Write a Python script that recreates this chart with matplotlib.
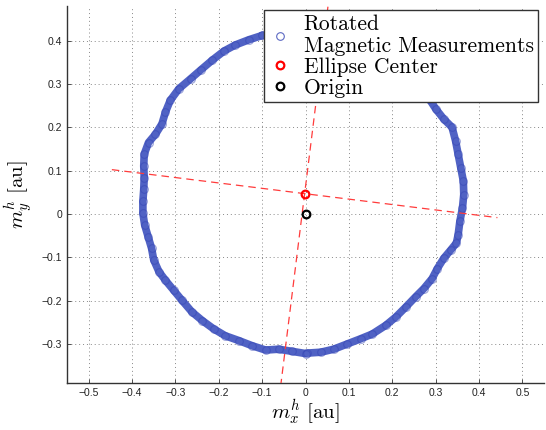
import numpy as np
import matplotlib
matplotlib.use('Agg')
import matplotlib.pyplot as plt
from matplotlib.ticker import FuncFormatter

ring_x = [-0.100, -0.131, -0.162, -0.188, -0.215, -0.242, -0.265, -0.292, -0.312,
          -0.323, -0.331, -0.346, -0.362, -0.372, -0.373, -0.372, -0.373, -0.375,
          -0.375, -0.371, -0.363, -0.355, -0.350, -0.338, -0.323, -0.304, -0.285,
          -0.262, -0.238, -0.212, -0.185, -0.154, -0.123, -0.092, -0.062, -0.031,
          0.000, 0.004, 0.035, 0.065, 0.096, 0.127, 0.154, 0.185, 0.208, 0.231,
          0.254, 0.273, 0.292, 0.304, 0.319, 0.335, 0.348, 0.352, 0.356, 0.362,
          0.365, 0.364, 0.358, 0.352, 0.346, 0.338, 0.319, 0.300, 0.285, 0.255,
          0.220, 0.180, 0.140, 0.100, 0.060, 0.020, -0.020, -0.060]
ring_y = [0.412, 0.402, 0.390, 0.376, 0.355, 0.332, 0.312, 0.289, 0.262,
          0.235, 0.208, 0.184, 0.165, 0.138, 0.111, 0.084, 0.057, 0.029,
          0.002, -0.025, -0.052, -0.079, -0.106, -0.133, -0.153, -0.176, -0.199,
          -0.226, -0.246, -0.265, -0.281, -0.292, -0.304, -0.314, -0.312, -0.317,
          -0.322, -0.321, -0.319, -0.312, -0.300, -0.288, -0.277, -0.257, -0.238, -0.215,
          -0.191, -0.172, -0.149, -0.126, -0.102, -0.083, -0.067, -0.048, -0.017, 0.014,
          0.045, 0.076, 0.107, 0.138, 0.169, 0.200, 0.219, 0.243, 0.266, 0.305,
          0.342, 0.370, 0.392, 0.408, 0.418, 0.420, 0.420, 0.416]

ellipse_center = (-0.002, 0.047)
origin = (0.0, 0.0)
axis_angle_deg = -7.1      # direcao do eixo maior
axis_half_len = 0.448

x_ticks = [-0.5, -0.4, -0.3, -0.2, -0.1, 0, 0.1, 0.2, 0.3, 0.4, 0.5]
y_ticks = [-0.3, -0.2, -0.1, 0, 0.1, 0.2, 0.3, 0.4]

plt.rcParams['mathtext.fontset'] = 'cm'

fig = plt.figure(figsize=(5.46, 4.30), dpi=100)
ax = fig.add_axes([67 / 546, 1 - 383 / 430, 477 / 546, 377 / 430])

blue = '#3444b4'
# faixa continua por baixo dos marcadores
ax.plot(ring_x + ring_x[:1], ring_y + ring_y[:1], color='#5062c4', lw=5.5,
        solid_capstyle='round', solid_joinstyle='round', zorder=2)
ax.plot(ring_x, ring_y, 'o', mfc='none', mec=blue, ms=5.5, mew=0.8, alpha=0.5,
        zorder=3, label='Rotated\nMagnetic Measurements')

# eixos da elipse (linhas tracejadas)
cx, cy = ellipse_center
for ang in (axis_angle_deg, axis_angle_deg + 90):
    t = np.deg2rad(ang)
    dx, dy = axis_half_len * np.cos(t), axis_half_len * np.sin(t)
    ax.plot([cx - dx, cx + dx], [cy - dy, cy + dy], color='#ff3b3b',
            lw=0.9, linestyle=(0, (6, 4)), zorder=4)

ax.plot([cx], [cy], 'o', mfc='none', mec='red', ms=5.5, mew=1.6, zorder=5,
        label='Ellipse Center')
ax.plot([origin[0]], [origin[1]], 'o', mfc='none', mec='black', ms=5.5, mew=1.6,
        zorder=5, label='Origin')

ax.set_xlim(-0.55, 0.55)
ax.set_ylim(-0.39, 0.48)
ax.set_xticks(x_ticks)
ax.set_yticks(y_ticks)
fmt = FuncFormatter(lambda v, p: ('%g' % round(v, 2)).replace('-', '\u2212'))
ax.xaxis.set_major_formatter(fmt)
ax.yaxis.set_major_formatter(fmt)
ax.tick_params(direction='in', length=3, width=0.6, color='#333333',
               labelsize=7.5, labelcolor='#222222')
for lab in ax.get_xticklabels() + ax.get_yticklabels():
    lab.set_family('Liberation Sans')
ax.grid(True, linestyle=(0, (1, 3)), color='#888888', lw=0.7)
ax.set_axisbelow(True)
for s in ('top', 'right'):
    ax.spines[s].set_visible(False)
for s in ('left', 'bottom'):
    ax.spines[s].set_color('#333333')
    ax.spines[s].set_linewidth(1.0)

ax.set_xlabel(r'$m_x^h\ [\mathrm{au}]$', fontsize=15, labelpad=0)
ax.set_ylabel(r'$m_y^h\ [\mathrm{au}]$', fontsize=15, labelpad=5)

leg_size = 15.5
leg = fig.legend(loc='upper right', bbox_to_anchor=(538 / 546, 1 - 10 / 430),
                 bbox_transform=fig.transFigure, borderaxespad=0,
                 prop={'family': 'cmr10', 'size': leg_size}, fancybox=False,
                 edgecolor='#333333', framealpha=1, handlelength=1.1,
                 handletextpad=0.55, borderpad=0.2, labelspacing=0.05,
                 numpoints=1)
leg.get_frame().set_linewidth(1.0)
for t in leg.get_texts():
    t.set_linespacing(1.2)
leg.legend_handles[0].set_alpha(0.8)

plt.savefig('out.png')
plt.close()
